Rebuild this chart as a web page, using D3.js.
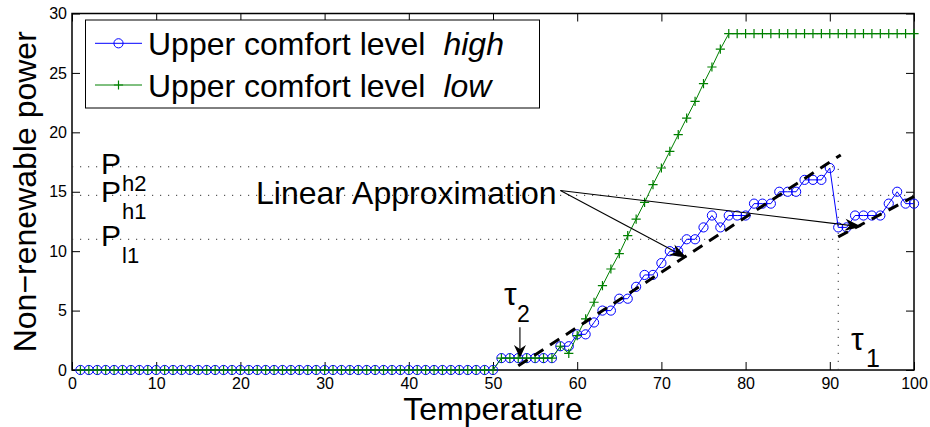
<!DOCTYPE html>
<html>
<head>
<meta charset="utf-8">
<script src="https://cdn.jsdelivr.net/npm/d3@7"></script>
<style>
  body { margin: 0; background: #fff; }
  svg text { font-family: "Liberation Sans", Arial, sans-serif; fill: #000; }
</style>
</head>
<body>
<svg id="chart" width="930" height="427"></svg>
<script>
// ---- data -------------------------------------------------------------
const temperature = [
  1,2,3,4,5,6,7,8,9,10,11,12,13,14,15,16,17,18,19,20,
  21,22,23,24,25,26,27,28,29,30,31,32,33,34,35,36,37,38,39,40,
  41,42,43,44,45,46,47,48,49,50,51,52,53,54,55,56,57,58,59,60,
  61,62,63,64,65,66,67,68,69,70,71,72,73,74,75,76,77,78,79,80,
  81,82,83,84,85,86,87,88,89,90,91,92,93,94,95,96,97,98,99,100
];
const powerHigh = [
  0,0,0,0,0,0,0,0,0,0,0,0,0,0,0,0,0,0,0,0,
  0,0,0,0,0,0,0,0,0,0,0,0,0,0,0,0,0,0,0,0,
  0,0,0,0,0,0,0,0,0,0,1,1,1,1,1,1,1,2,2,3,
  3,4,5,5,6,6,7,8,8,9,10,10,11,11,12,13,12,13,13,13,
  14,14,14,15,15,15,16,16,16,17,12,12,13,13,13,13,14,15,14,14
];
const powerLow = [
  0,0,0,0,0,0,0,0,0,0,0,0,0,0,0,0,0,0,0,0,
  0,0,0,0,0,0,0,0,0,0,0,0,0,0,0,0,0,0,0,0,
  0,0,0,0,0,0,0,0,0,0,1,1,1,1,1,1,1,2,1.4,2.9,
  4.3,5.7,7.1,8.5,9.8,11.3,12.7,14.1,15.6,17.0,18.4,19.8,21.2,22.6,24.1,25.5,27.0,28.3,28.3,28.3,
  28.3,28.3,28.3,28.3,28.3,28.3,28.3,28.3,28.3,28.3,28.3,28.3,28.3,28.3,28.3,28.3,28.3,28.3,28.3,28.3
];
const xTicks = [0,10,20,30,40,50,60,70,80,90,100];
const yTicks = [0,5,10,15,20,25,30];
const legendLabels = ["Upper comfort level", "Upper comfort level"];
const legendTags = ["high", "low"];
const xLabel = "Temperature";
const yLabel = "Non\u2212renewable power";

// reference power levels and the right end of each dotted line
const levelNames = ["h2", "h1", "l1"];
const levelValues = [17.1, 14.7, 11.0];
const levelEnds = [91, 100, 91];
const tau1 = 91;            // temperature threshold tau_1
const tau2 = 53.2;          // temperature threshold tau_2
// linear approximations: [x0, y0, x1, y1]
const approxLines = [[53, 0.35, 91.3, 18.1], [91, 11.2, 100, 14.6]];
const approxText = "Linear Approximation";
const approxFrom = [58, 15.1];
const approxTargets = [[73.0, 9.45], [93.8, 12.05]];

// ---- layout -----------------------------------------------------------
const svg = d3.select("#chart");
const plotL = 72, plotR = 914, plotT = 13.5, plotB = 370;
const x = d3.scaleLinear().domain([0, 100]).range([plotL, plotR]);
const y = d3.scaleLinear().domain([0, 30]).range([plotB, plotT]);
const BLUE = "#0000ff", GREEN = "#008000";

// ---- axes (ticks inward on all four sides) ----------------------------
const tickLen = 8;
const axB = svg.append("g").attr("transform", `translate(0,${plotB})`)
  .call(d3.axisBottom(x).tickValues(xTicks).tickSizeInner(-tickLen).tickSizeOuter(0).tickPadding(8));
const axT = svg.append("g").attr("transform", `translate(0,${plotT})`)
  .call(d3.axisTop(x).tickValues(xTicks).tickSizeInner(-tickLen).tickSizeOuter(0).tickFormat(""));
const axL = svg.append("g").attr("transform", `translate(${plotL},0)`)
  .call(d3.axisLeft(y).tickValues(yTicks).tickSizeInner(-tickLen).tickSizeOuter(0).tickPadding(5));
const axR = svg.append("g").attr("transform", `translate(${plotR},0)`)
  .call(d3.axisRight(y).tickValues(yTicks).tickSizeInner(-tickLen).tickSizeOuter(0).tickFormat(""));
[axB, axT, axL, axR].forEach(a => {
  a.select(".domain").remove();
  a.selectAll(".tick line").attr("stroke", "#000").attr("stroke-width", 1);
  a.selectAll(".tick text").attr("font-size", 16).attr("fill", "#000")
    .style("font-family", '"Liberation Sans", Arial, sans-serif');
});
svg.append("rect").attr("x", plotL).attr("y", plotT)
  .attr("width", plotR - plotL).attr("height", plotB - plotT)
  .attr("fill", "none").attr("stroke", "#000").attr("stroke-width", 1.5);

// axis titles
svg.append("text").attr("x", (plotL + plotR) / 2).attr("y", 419.5)
  .attr("text-anchor", "middle").attr("font-size", 32).text(xLabel);
svg.append("text").attr("transform", `translate(36,${(plotT + plotB) / 2}) rotate(-90)`)
  .attr("text-anchor", "middle").attr("font-size", 32).text(yLabel);

// ---- dotted reference levels ------------------------------------------
const dotted = svg.append("g").attr("stroke", "#333").attr("stroke-width", 1)
  .attr("stroke-dasharray", "1.2,6.8").attr("fill", "none");
levelValues.forEach((v, i) => {
  dotted.append("line").attr("x1", x(0)).attr("x2", x(levelEnds[i]))
    .attr("y1", y(v)).attr("y2", y(v));
});
dotted.append("line").attr("x1", x(tau1)).attr("x2", x(tau1))
  .attr("y1", y(0)).attr("y2", y(levelValues[0]));

// ---- series -----------------------------------------------------------
const line = d3.line().x((d, i) => x(temperature[i])).y(d => y(d));
svg.append("path").datum(powerHigh).attr("d", line)
  .attr("fill", "none").attr("stroke", BLUE).attr("stroke-width", 1);
svg.append("g").selectAll("circle").data(powerHigh).join("circle")
  .attr("cx", (d, i) => x(temperature[i])).attr("cy", d => y(d)).attr("r", 4.6)
  .attr("fill", "none").attr("stroke", BLUE).attr("stroke-width", 1);

const plus = "M-4.6,0H4.6M0,-4.6V4.6";
svg.append("path").datum(powerLow).attr("d", line)
  .attr("fill", "none").attr("stroke", GREEN).attr("stroke-width", 1);
svg.append("g").selectAll("path").data(powerLow).join("path")
  .attr("d", plus).attr("transform", (d, i) => `translate(${x(temperature[i])},${y(d)})`)
  .attr("fill", "none").attr("stroke", GREEN).attr("stroke-width", 1.2);

// ---- linear approximations (dashed) -----------------------------------
approxLines.forEach(l => {
  svg.append("line").attr("x1", x(l[0])).attr("y1", y(l[1]))
    .attr("x2", x(l[2])).attr("y2", y(l[3]))
    .attr("stroke", "#000").attr("stroke-width", 3).attr("stroke-dasharray", "11,8");
});

// ---- annotation arrows ------------------------------------------------
function arrow(x1, y1, x2, y2, L, Wd) {
  const dx = x2 - x1, dy = y2 - y1, len = Math.hypot(dx, dy);
  const ux = dx / len, uy = dy / len, nx = -uy, ny = ux;
  svg.append("line").attr("x1", x1).attr("y1", y1)
    .attr("x2", x2 - ux * L * 0.6).attr("y2", y2 - uy * L * 0.6)
    .attr("stroke", "#000").attr("stroke-width", 1.1);
  const pts = [
    [x2, y2],
    [x2 - ux * L + nx * Wd, y2 - uy * L + ny * Wd],
    [x2 - ux * L * 0.7, y2 - uy * L * 0.7],
    [x2 - ux * L - nx * Wd, y2 - uy * L - ny * Wd]
  ];
  svg.append("polygon").attr("points", pts.map(p => p.join(",")).join(" ")).attr("fill", "#000");
}
approxTargets.forEach(t => arrow(x(approxFrom[0]), y(approxFrom[1]), x(t[0]), y(t[1]), 17, 6));
arrow(x(tau2), y(3.6), x(tau2), y(1.0), 13, 6);

svg.append("text").attr("x", 256).attr("y", 204).attr("font-size", 32).text(approxText);

// ---- level labels P_h2, P_h1, P_l1 -------------------------------------
levelValues.forEach((v, i) => {
  const base = y(v) + 7;
  svg.append("text").attr("x", 101).attr("y", base).attr("font-size", 30).text("P");
  svg.append("text").attr("x", 122).attr("y", base + 17).attr("font-size", 22).text(levelNames[i]);
});

// ---- tau labels --------------------------------------------------------
svg.append("text").attr("x", 504).attr("y", 305).attr("font-size", 32).text("\u03c4");
svg.append("text").attr("x", 517).attr("y", 322).attr("font-size", 23).text("2");
svg.append("text").attr("x", 851).attr("y", 350).attr("font-size", 32).text("\u03c4");
svg.append("text").attr("x", 866).attr("y", 367).attr("font-size", 25).text("1");

// ---- legend -----------------------------------------------------------
const lg = svg.append("g");
lg.append("rect").attr("x", 85.5).attr("y", 20).attr("width", 454).attr("height", 88)
  .attr("fill", "#fff").attr("stroke", "#000").attr("stroke-width", 1);
const rowsY = [43.3, 85];
[BLUE, GREEN].forEach((c, i) => {
  const ly = rowsY[i];
  lg.append("line").attr("x1", 95).attr("x2", 142).attr("y1", ly).attr("y2", ly)
    .attr("stroke", c).attr("stroke-width", 1);
  if (i === 0) {
    lg.append("circle").attr("cx", 118.5).attr("cy", ly).attr("r", 4.6)
      .attr("fill", "none").attr("stroke", c);
  } else {
    lg.append("path").attr("d", plus).attr("transform", `translate(118.5,${ly})`)
      .attr("stroke", c).attr("stroke-width", 1.2);
  }
  const t = lg.append("text").attr("x", 148).attr("y", ly + 11.7).attr("font-size", 32);
  t.append("tspan").text(legendLabels[i]);
  t.append("tspan").attr("dx", 18).attr("font-style", "italic").text(legendTags[i]);
});
</script>
</body>
</html>
